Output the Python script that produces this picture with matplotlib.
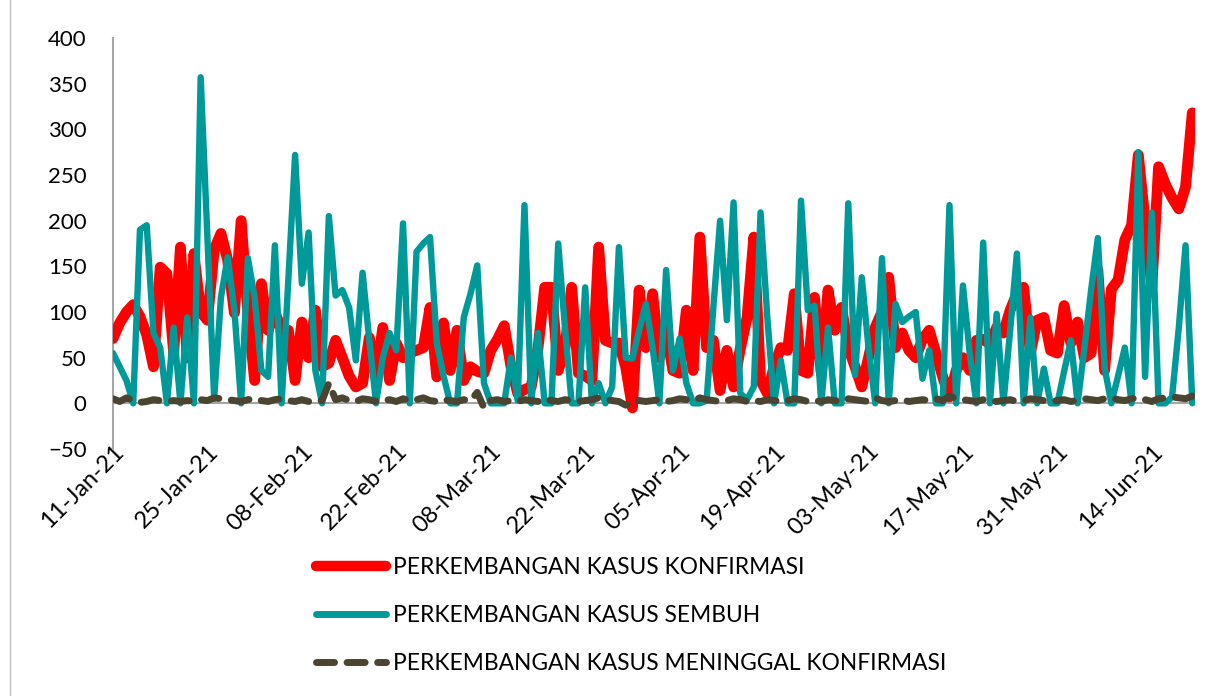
import matplotlib
matplotlib.use("Agg")
import matplotlib.pyplot as plt
import matplotlib.dates as mdates
from matplotlib.lines import Line2D
import pandas as pd

plt.rcParams['font.family'] = ['Lato', 'DejaVu Sans']

# daily data, 11 Jan 2021 - 20 Jun 2021
dates = pd.date_range('2021-01-11', periods=161, freq='D')

konfirmasi = [
    71, 88, 100, 108, 95, 75, 40, 149, 142, 55,
    171, 50, 164, 100, 91, 168, 186, 157, 99, 200,
    99, 25, 131, 80, 100, 80, 80, 25, 89, 50,
    102, 40, 44, 69, 50, 30, 18, 22, 72, 29,
    83, 25, 66, 50, 55, 58, 61, 105, 29, 88,
    36, 80, 25, 40, 35, 33, 58, 70, 85, 40,
    11, 15, 18, 60, 127, 127, 36, 60, 127, 33,
    30, 25, 171, 69, 66, 66, 40, -5, 124, 61,
    120, 50, 80, 36, 33, 102, 36, 182, 61, 69,
    14, 58, 18, 60, 94, 182, 25, 11, 40, 61,
    58, 120, 36, 33, 116, 33, 124, 80, 105, 61,
    40, 18, 50, 83, 100, 138, 61, 77, 58, 50,
    70, 80, 55, 29, 7, 36, 50, 36, 69, 70,
    65, 83, 77, 102, 120, 127, 55, 91, 94, 58,
    55, 107, 66, 89, 50, 55, 146, 36, 125, 135,
    179, 195, 272, 200, 127, 259, 240, 225, 213, 237, 318,
]

sembuh = [
    55, 40, 25, 0, 190, 195, 77, 61, 0, 83,
    0, 94, 0, 357, 181, 5, 116, 160, 102, 0,
    159, 116, 36, 29, 173, 0, 135, 272, 131, 187,
    36, 0, 205, 118, 124, 105, 47, 143, 69, 0,
    50, 77, 58, 197, 0, 166, 175, 182, 66, 30,
    0, 0, 94, 120, 151, 22, 0, 0, 0, 50,
    3, 217, 0, 77, 0, 0, 175, 83, 0, 0,
    127, 0, 22, 0, 18, 171, 50, 49, 80, 109,
    61, 0, 146, 36, 71, 22, 0, 0, 3, 105,
    200, 91, 220, 11, 4, 18, 209, 94, 0, 47,
    0, 0, 222, 102, 107, 0, 83, 0, 0, 219,
    31, 138, 61, 0, 159, 0, 109, 89, 95, 100,
    27, 58, 0, 0, 217, 0, 129, 55, 0, 176,
    0, 98, 0, 80, 164, 0, 94, 0, 38, 0,
    0, 35, 69, 0, 60, 124, 181, 39, 0, 30,
    61, 0, 275, 29, 209, 0, 0, 7, 83, 173, 0,
]

meninggal = [
    5, 2, 6, 3, 1, 2, 4, 3, 2, 3,
    2, 3, 2, 4, 3, 6, 5, 4, 3, 2,
    4, 5, 3, 2, 4, 5, 3, 2, 4, 2,
    3, 3, 22, 4, 6, 3, 2, 5, 4, 2,
    3, 4, 2, 5, 3, 4, 6, 3, 2, 4,
    3, 2, 4, 3, 12, -5, 3, 4, 2, 3,
    2, 4, 3, 2, 5, 3, 2, 4, 3, 2,
    3, 4, 6, 5, 3, 2, -2, 2, 3, 2,
    3, 4, 2, 3, 5, 4, 3, 6, 4, 3,
    2, 3, 5, 4, 2, 3, 2, 4, 3, 2,
    3, 5, 4, 2, 3, 2, 4, 3, 2, 5,
    4, 3, 2, 6, 3, 2, 3, 4, 2, 3,
    4, 3, 5, 3, 8, 5, 4, 3, 2, 4,
    3, 2, 3, 4, 2, 3, 5, 4, 3, 2,
    3, 4, 2, 3, 5, 4, 3, 5, 6, 4,
    3, 5, 6, 4, 2, 5, 6, 7, 6, 5, 8,
]

labels = ['PERKEMBANGAN KASUS KONFIRMASI',
          'PERKEMBANGAN KASUS SEMBUH',
          'PERKEMBANGAN KASUS MENINGGAL KONFIRMASI']
red = '#FF0000'
teal = '#009999'
olive = '#4B4430'
grey = '#A6A6A6'

fig = plt.figure(figsize=(12.24, 6.96), dpi=100)
ax = fig.add_axes([0.0923, 0.3549, 0.884, 0.5905])

ax.plot(dates, konfirmasi, color=red, lw=7.8, solid_joinstyle='round',
        solid_capstyle='round', zorder=3)
ax.plot(dates, sembuh, color=teal, lw=4.6, solid_joinstyle='round',
        solid_capstyle='round', zorder=4)
ax.plot(dates, meninggal, color=olive, lw=5, ls=(0, (2.6, 1.8)),
        dash_capstyle='round', zorder=5)
ax.axhline(0, color=grey, lw=1.5, zorder=1)

ax.set_ylim(-50, 400)
ax.set_yticks(range(-50, 401, 50))
ax.set_xlim(dates[0], dates[0] + pd.Timedelta(days=160.4))
ax.set_xticks(pd.date_range('2021-01-11', '2021-06-20', freq='14D'))
ax.xaxis.set_major_formatter(mdates.DateFormatter('%d-%b-%y'))

for s in ['top', 'right', 'bottom']:
    ax.spines[s].set_visible(False)
ax.spines['left'].set_color(grey)
ax.spines['left'].set_linewidth(1.5)

ax.tick_params(axis='y', length=0, labelsize=16, pad=19)
ax.tick_params(axis='x', length=0, labelsize=17, pad=-6)
for t in ax.get_xticklabels():
    t.set_rotation(45)
    t.set_ha('right')
    t.set_va('top')
    t.set_rotation_mode('anchor')

h1 = Line2D([], [], color=red, lw=7.5, solid_capstyle='round')
h2 = Line2D([], [], color=teal, lw=5, solid_capstyle='round')
h3 = Line2D([], [], color=olive, lw=5, ls=(0, (2.6, 1.8)), dash_capstyle='round')
fig.legend([h1, h2, h3], labels, loc='upper left', bbox_to_anchor=(0.258, 0.2),
           frameon=False, fontsize=16.4, handlelength=3.07, handletextpad=0.3,
           labelspacing=1.2, borderpad=0, borderaxespad=0)

fig.add_artist(Line2D([10 / 1224, 10 / 1224], [0, 1], color='#BFBFBF', lw=1))

fig.savefig('out.png', dpi=100)
